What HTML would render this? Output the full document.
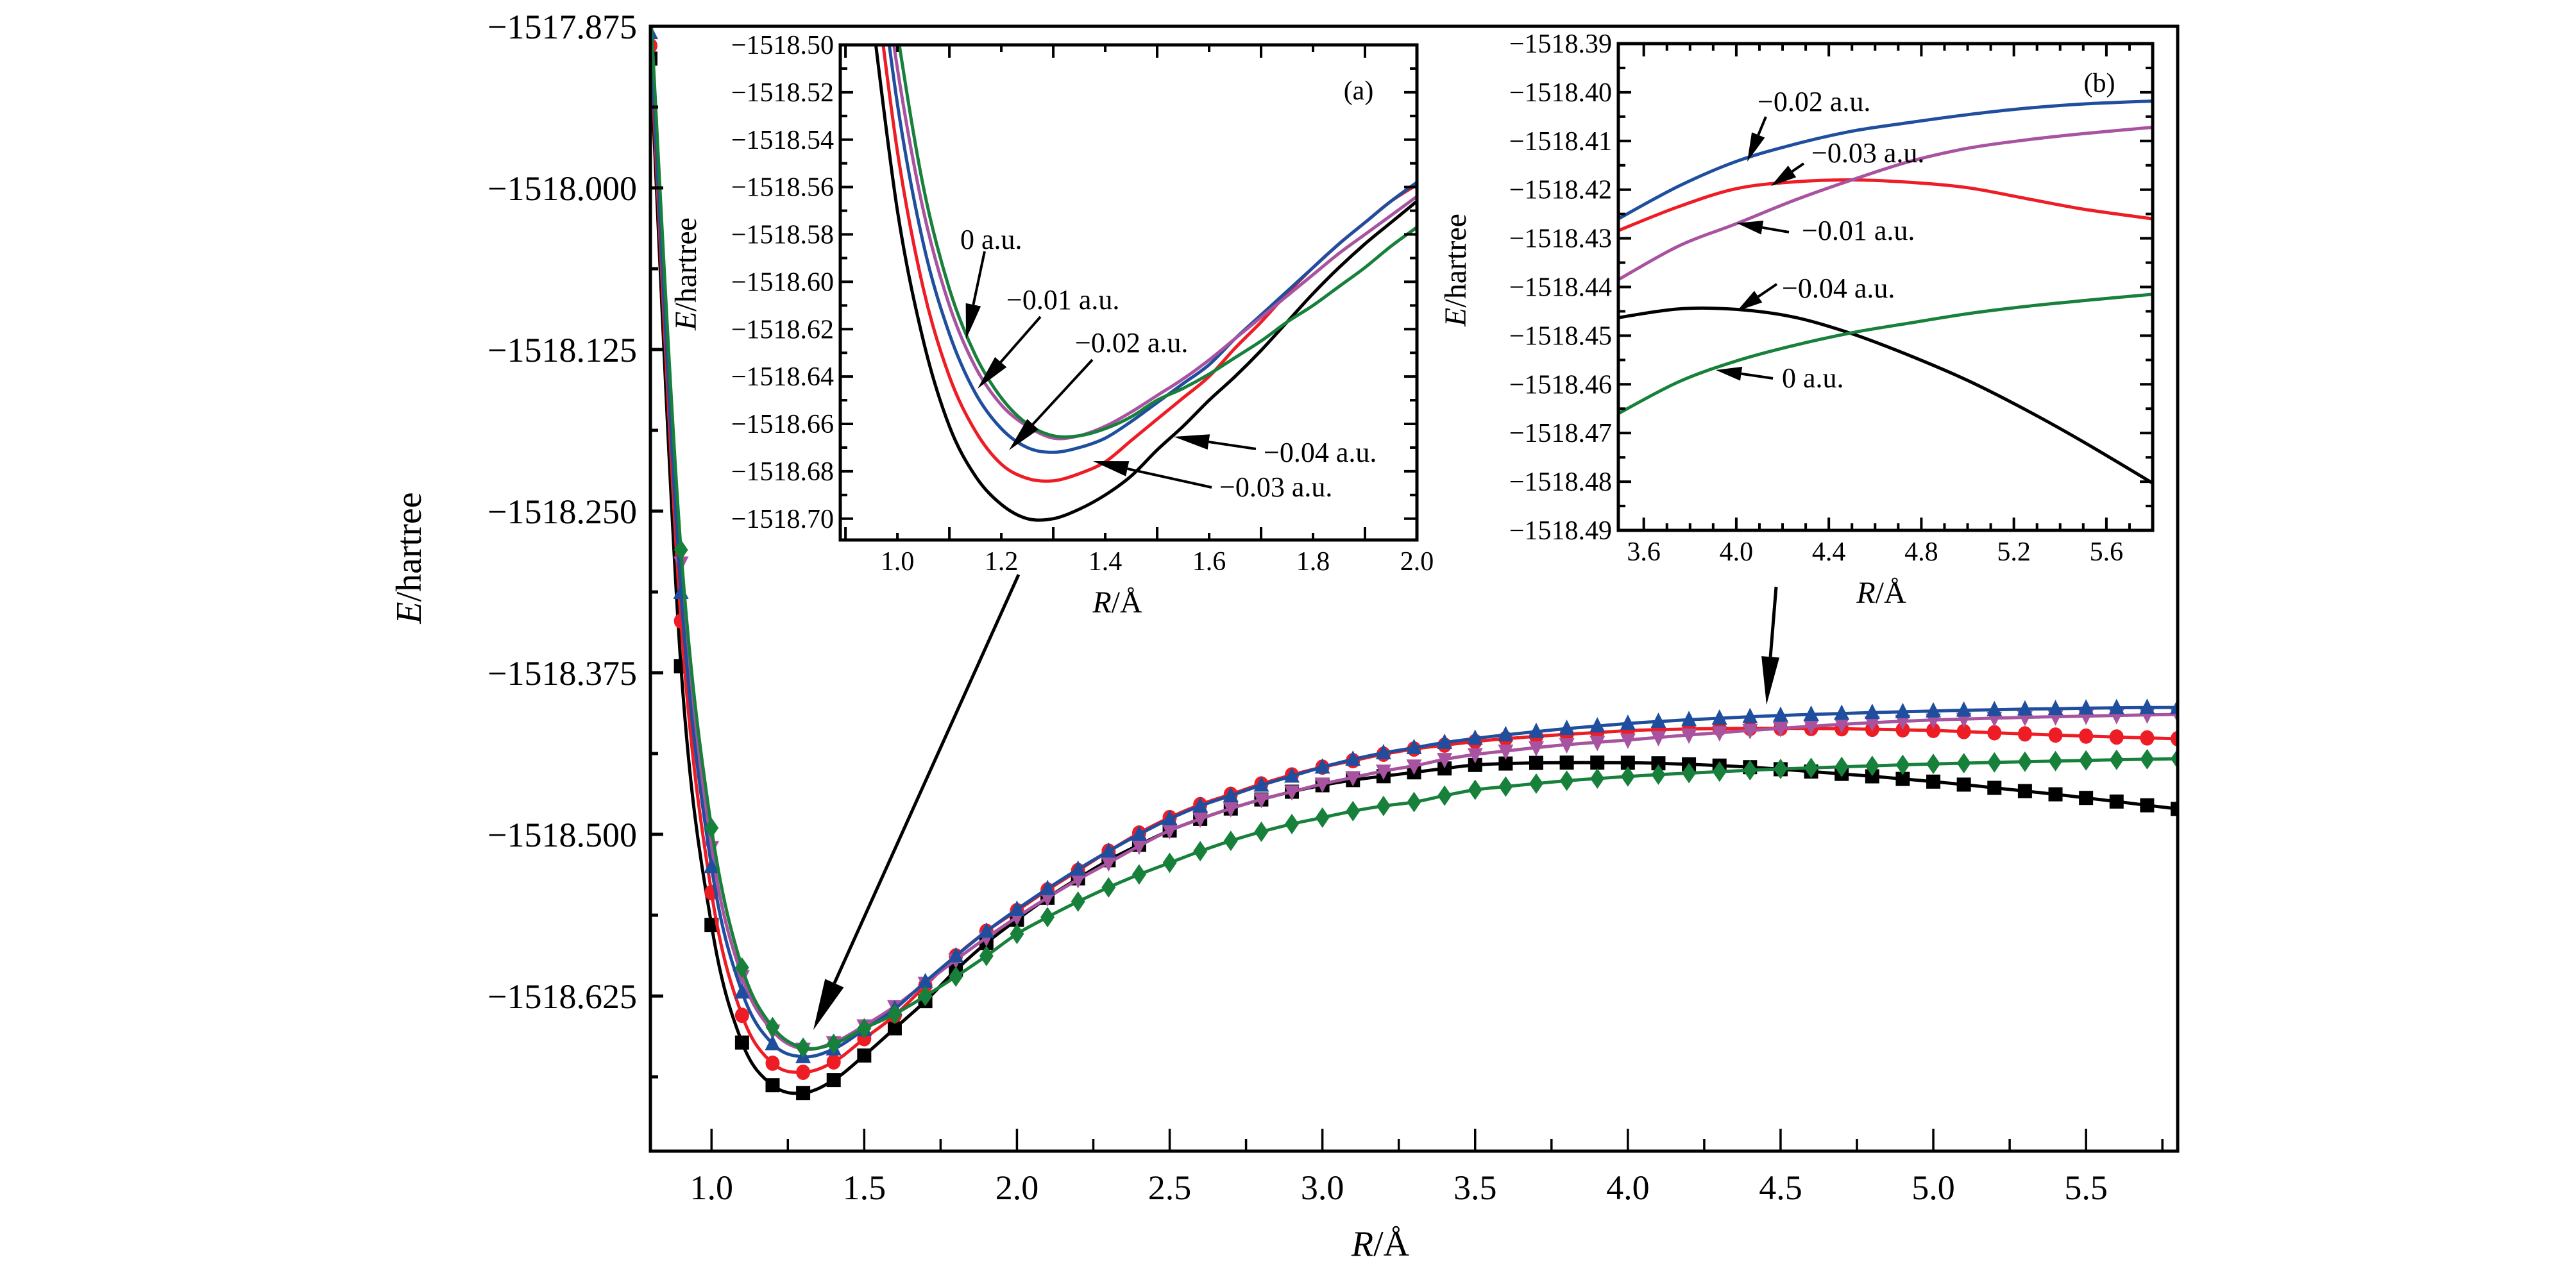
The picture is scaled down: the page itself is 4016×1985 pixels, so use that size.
<!DOCTYPE html>
<html><head><meta charset="utf-8"><title>E vs R chart</title>
<style>
html,body{margin:0;padding:0;background:#fff;}
svg{display:block;font-family:"Liberation Serif",serif;}
</style></head>
<body>
<svg id="chart" width="4016" height="1985" viewBox="0 0 4016 1985" xmlns="http://www.w3.org/2000/svg">
<defs>
<clipPath id="clipMain"><rect x="1014" y="41" width="2381" height="1754"/></clipPath>
<clipPath id="clipA"><rect x="1310" y="70" width="899" height="772"/></clipPath>
<clipPath id="clipB"><rect x="2523" y="68" width="833" height="759"/></clipPath>
</defs>
<g id="root"></g>
</svg>
<script>
// ---- main plot data (R step 0.1) ----
const mainR = [0.8,0.9,1.0,1.1,1.2,1.3,1.4,1.5,1.6,1.7,1.8,1.9,2.0,2.1,2.2,2.3,2.4,2.5,2.6,2.7,2.8,2.9,3.0,3.1,3.2,3.3,3.4,3.5,3.6,3.7,3.8,3.9,4.0,4.1,4.2,4.3,4.4,4.5,4.6,4.7,4.8,4.9,5.0,5.1,5.2,5.3,5.4,5.5,5.6,5.7,5.8];
const mainBlack = [-1517.90,-1518.37,-1518.57,-1518.661,-1518.694,-1518.700,-1518.690,-1518.671,-1518.650,-1518.629,-1518.605,-1518.584,-1518.566,-1518.549,-1518.534,-1518.520,-1518.508,-1518.497,-1518.488,-1518.480,-1518.473,-1518.467,-1518.462,-1518.458,-1518.455,-1518.452,-1518.449,-1518.4463,-1518.4452,-1518.4447,-1518.4445,-1518.4445,-1518.4446,-1518.4450,-1518.4458,-1518.4468,-1518.4480,-1518.4496,-1518.4514,-1518.4532,-1518.4551,-1518.4571,-1518.4592,-1518.4615,-1518.4640,-1518.4665,-1518.4690,-1518.4718,-1518.4746,-1518.4775,-1518.4803];
const mainRed = [-1517.89,-1518.335,-1518.545,-1518.640,-1518.677,-1518.684,-1518.676,-1518.658,-1518.640,-1518.617,-1518.594,-1518.575,-1518.559,-1518.543,-1518.528,-1518.513,-1518.499,-1518.487,-1518.477,-1518.469,-1518.461,-1518.454,-1518.448,-1518.443,-1518.438,-1518.434,-1518.431,-1518.4282,-1518.4260,-1518.4242,-1518.4226,-1518.4212,-1518.4198,-1518.4190,-1518.4185,-1518.4182,-1518.4180,-1518.4180,-1518.4181,-1518.4183,-1518.4187,-1518.4191,-1518.4196,-1518.4205,-1518.4214,-1518.4223,-1518.4232,-1518.4240,-1518.4247,-1518.4254,-1518.4260];
const mainBlue = [-1517.88,-1518.313,-1518.525,-1518.622,-1518.662,-1518.672,-1518.666,-1518.651,-1518.635,-1518.614,-1518.594,-1518.575,-1518.558,-1518.542,-1518.527,-1518.513,-1518.500,-1518.488,-1518.478,-1518.470,-1518.462,-1518.455,-1518.448,-1518.442,-1518.437,-1518.433,-1518.429,-1518.4258,-1518.4230,-1518.4205,-1518.4182,-1518.4162,-1518.4142,-1518.4127,-1518.4113,-1518.4102,-1518.4090,-1518.4080,-1518.4072,-1518.4065,-1518.4058,-1518.4052,-1518.4046,-1518.4040,-1518.4036,-1518.4031,-1518.4028,-1518.4024,-1518.4021,-1518.4019,-1518.4018];
const mainMagenta = [-1517.87,-1518.29,-1518.51,-1518.610,-1518.652,-1518.666,-1518.661,-1518.648,-1518.633,-1518.615,-1518.597,-1518.580,-1518.564,-1518.549,-1518.535,-1518.522,-1518.509,-1518.497,-1518.488,-1518.480,-1518.473,-1518.467,-1518.461,-1518.456,-1518.451,-1518.447,-1518.442,-1518.4382,-1518.4355,-1518.4329,-1518.4306,-1518.4288,-1518.4270,-1518.4250,-1518.4231,-1518.4213,-1518.4196,-1518.4180,-1518.4164,-1518.4149,-1518.4136,-1518.4125,-1518.4115,-1518.4108,-1518.4101,-1518.4095,-1518.4090,-1518.4085,-1518.4080,-1518.4076,-1518.4072];
const mainGreen = [-1517.86,-1518.28,-1518.495,-1518.603,-1518.649,-1518.665,-1518.662,-1518.650,-1518.639,-1518.625,-1518.610,-1518.594,-1518.577,-1518.564,-1518.552,-1518.541,-1518.531,-1518.522,-1518.513,-1518.505,-1518.498,-1518.492,-1518.487,-1518.482,-1518.478,-1518.475,-1518.470,-1518.4655,-1518.4630,-1518.4607,-1518.4585,-1518.4568,-1518.4552,-1518.4538,-1518.4526,-1518.4515,-1518.4504,-1518.4494,-1518.4486,-1518.4478,-1518.4470,-1518.4462,-1518.4455,-1518.4449,-1518.4443,-1518.4438,-1518.4433,-1518.4428,-1518.4423,-1518.4419,-1518.4415];
const mainXTicks = ["1.0","1.5","2.0","2.5","3.0","3.5","4.0","4.5","5.0","5.5"];
const mainYTicks = ["−1517.875","−1518.000","−1518.125","−1518.250","−1518.375","−1518.500","−1518.625"];

// ---- inset (a) data ----
const insetAR = [0.95,1.0,1.05,1.1,1.15,1.2,1.25,1.3,1.35,1.4,1.45,1.5,1.55,1.6,1.65,1.7,1.75,1.8,1.85,1.9,1.95,2.0];
const insetABlack = [-1518.485,-1518.57,-1518.625,-1518.661,-1518.682,-1518.694,-1518.700,-1518.700,-1518.696,-1518.690,-1518.682,-1518.671,-1518.661,-1518.650,-1518.640,-1518.629,-1518.617,-1518.605,-1518.594,-1518.584,-1518.575,-1518.566];
const insetARed = [-1518.46,-1518.545,-1518.603,-1518.640,-1518.663,-1518.677,-1518.683,-1518.684,-1518.681,-1518.676,-1518.667,-1518.658,-1518.649,-1518.640,-1518.628,-1518.617,-1518.605,-1518.594,-1518.584,-1518.575,-1518.566,-1518.559];
const insetABlue = [-1518.44,-1518.525,-1518.584,-1518.622,-1518.647,-1518.662,-1518.670,-1518.672,-1518.670,-1518.666,-1518.659,-1518.651,-1518.643,-1518.635,-1518.624,-1518.614,-1518.604,-1518.594,-1518.584,-1518.575,-1518.566,-1518.558];
const insetAMagenta = [-1518.43,-1518.51,-1518.57,-1518.610,-1518.636,-1518.652,-1518.661,-1518.666,-1518.665,-1518.661,-1518.655,-1518.648,-1518.641,-1518.633,-1518.624,-1518.615,-1518.606,-1518.597,-1518.588,-1518.580,-1518.572,-1518.564];
const insetAGreen = [-1518.42,-1518.495,-1518.56,-1518.603,-1518.631,-1518.649,-1518.660,-1518.665,-1518.665,-1518.662,-1518.657,-1518.650,-1518.645,-1518.639,-1518.632,-1518.625,-1518.617,-1518.610,-1518.602,-1518.594,-1518.585,-1518.577];
const insetAXTicks = ["1.0","1.2","1.4","1.6","1.8","2.0"];
const insetAYTicks = ["−1518.50","−1518.52","−1518.54","−1518.56","−1518.58","−1518.60","−1518.62","−1518.64","−1518.66","−1518.68","−1518.70"];

// ---- inset (b) data ----
const insetBR = [3.49,3.75,4.0,4.25,4.5,4.75,5.0,5.25,5.5,5.8];
const insetBBlue = [-1518.4260,-1518.4193,-1518.4142,-1518.4107,-1518.4080,-1518.4062,-1518.4046,-1518.4033,-1518.4024,-1518.4018];
const insetBRed = [-1518.4284,-1518.4235,-1518.4198,-1518.4184,-1518.4180,-1518.4185,-1518.4196,-1518.4218,-1518.4240,-1518.4260];
const insetBMagenta = [-1518.4385,-1518.4316,-1518.4270,-1518.4222,-1518.4180,-1518.4142,-1518.4115,-1518.4098,-1518.4085,-1518.4072];
const insetBBlack = [-1518.4463,-1518.4445,-1518.4446,-1518.4462,-1518.4496,-1518.4541,-1518.4592,-1518.4652,-1518.4718,-1518.4803];
const insetBGreen = [-1518.4660,-1518.4595,-1518.4552,-1518.4520,-1518.4494,-1518.4474,-1518.4455,-1518.4440,-1518.4428,-1518.4415];
const insetBXTicks = ["3.6","4.0","4.4","4.8","5.2","5.6"];
const insetBYTicks = ["−1518.39","−1518.40","−1518.41","−1518.42","−1518.43","−1518.44","−1518.45","−1518.46","−1518.47","−1518.48","−1518.49"];

const NS = "http://www.w3.org/2000/svg";
const root = document.getElementById('root');
const C = {black:"#000000", red:"#ee1c24", blue:"#1f4e9e", magenta:"#a8539f", green:"#17803a"};

function mk(tag, attrs, parent){
  const e = document.createElementNS(NS, tag);
  for (const k in attrs) e.setAttribute(k, attrs[k]);
  (parent||root).appendChild(e);
  return e;
}
function num(s){ return parseFloat(s.replace('−','-')); }
function smoothPath(pts){
  let d = "M" + pts[0][0].toFixed(1) + "," + pts[0][1].toFixed(1);
  for (let i=0;i<pts.length-1;i++){
    const p0 = pts[Math.max(0,i-1)], p1 = pts[i], p2 = pts[i+1], p3 = pts[Math.min(pts.length-1,i+2)];
    const c1x = p1[0] + (p2[0]-p0[0])/6, c1y = p1[1] + (p2[1]-p0[1])/6;
    const c2x = p2[0] - (p3[0]-p1[0])/6, c2y = p2[1] - (p3[1]-p1[1])/6;
    d += " C" + c1x.toFixed(1)+","+c1y.toFixed(1)+" "+c2x.toFixed(1)+","+c2y.toFixed(1)+" "+p2[0].toFixed(1)+","+p2[1].toFixed(1);
  }
  return d;
}

// ===== MAIN AXES =====
const M = {x0:1014, x1:3395, y0:41, y1:1795, rMin:0.8, rMax:5.8, vTop:-1517.875, vBot:-1518.745};
const mx = r => M.x0 + (r - M.rMin)/(M.rMax - M.rMin)*(M.x1 - M.x0);
const my = v => M.y0 + (M.vTop - v)/(M.vTop - M.vBot)*(M.y1 - M.y0);

const mainG = mk('g', {});


const mainSeries = [
  {name:'black', vals:mainBlack, col:C.black, shape:'square'},
  {name:'red', vals:mainRed, col:C.red, shape:'circle'},
  {name:'magenta', vals:mainMagenta, col:C.magenta, shape:'down'},
  {name:'blue', vals:mainBlue, col:C.blue, shape:'up'},
  {name:'green', vals:mainGreen, col:C.green, shape:'diamond'}
];
const seriesG = mk('g', {'clip-path':'url(#clipMain)'}, mainG);
mainSeries.forEach(s => {
  const g = mk('g', {}, seriesG);
  
  
  const pts = mainR.map((r,i) => [mx(r), my(s.vals[i])]);
  const line = mk('path', {d:smoothPath(pts), fill:'none', stroke:s.col, 'stroke-width':5}, g);
  
  
  pts.forEach(p => {
    let m; const x=p[0], y=p[1];
    if (s.shape==='square') m = mk('rect', {x:x-11, y:y-11, width:22, height:22, fill:s.col}, g);
    else if (s.shape==='circle') m = mk('ellipse', {cx:x, cy:y, rx:11, ry:12, fill:s.col}, g);
    else if (s.shape==='up') m = mk('polygon', {points:`${x-12},${y+10} ${x+12},${y+10} ${x},${y-14}`, fill:s.col}, g);
    else if (s.shape==='down') m = mk('polygon', {points:`${x-12},${y-10} ${x+12},${y-10} ${x},${y+14}`, fill:s.col}, g);
    else m = mk('polygon', {points:`${x},${y-16} ${x+11},${y} ${x},${y+16} ${x-11},${y}`, fill:s.col}, g);
    
    
  });
});
const mf = mk('rect', {x:M.x0, y:M.y0, width:M.x1-M.x0, height:M.y1-M.y0, fill:'none', stroke:'#000', 'stroke-width':5}, mainG);


for (let r=1.0; r<=5.76; r+=0.25){
  const x = mx(r); const major = Math.abs((r*2)-Math.round(r*2))<1e-6;
  mk('line', {x1:x, x2:x, y1:M.y1, y2:M.y1-(major?35:19), stroke:'#000', 'stroke-width':3.5}, mainG);
}
mainXTicks.forEach(t => {
  const tx = mk('text', {x:mx(num(t)), y:1870, 'font-size':54, 'text-anchor':'middle'}, mainG);
  tx.textContent = t;
  
  
});
for (let k=0; k<=13; k++){
  const v = M.vTop - k*0.0625; const y = my(v);
  if (y > M.y1) break;
  mk('line', {x1:M.x0, x2:M.x0+(k%2===0?20:12), y1:y, y2:y, stroke:'#000', 'stroke-width':5}, mainG);
}
mainYTicks.forEach(t => {
  const ty = mk('text', {x:993, y:my(num(t))+19, 'font-size':54, 'text-anchor':'end'}, mainG);
  ty.textContent = t;
  
  
});
const xt = mk('text', {x:2152, y:1958, 'font-size':56, 'text-anchor':'middle'}, mainG);
xt.innerHTML = '<tspan font-style="italic">R</tspan>/Å';


const yt = mk('text', {x:0, y:0, 'font-size':56, 'text-anchor':'middle', transform:'translate(656,870) rotate(-90)'}, mainG);
yt.innerHTML = '<tspan font-style="italic">E</tspan>/hartree';



// ===== INSET helper =====
function buildInset(cfg){
  const g = mk('g', {});
  
  
  const ix = r => cfg.x0 + (r-cfg.rMin)/(cfg.rMax-cfg.rMin)*(cfg.x1-cfg.x0);
  const iy = v => cfg.y0 + (cfg.vTop - v)/(cfg.vTop-cfg.vBot)*(cfg.y1-cfg.y0);
  mk('rect', {x:cfg.x0, y:cfg.y0, width:cfg.x1-cfg.x0, height:cfg.y1-cfg.y0, fill:'#fff'}, g);
  const lg = mk('g', {'clip-path':cfg.clip}, g);
  cfg.series.forEach(s => {
    const pts = cfg.R.map((r,i) => [ix(r), iy(s.vals[i])]);
    const p = mk('path', {d:smoothPath(pts), fill:'none', stroke:s.col, 'stroke-width':5}, lg);
    
    
  });
  const fr = mk('rect', {x:cfg.x0, y:cfg.y0, width:cfg.x1-cfg.x0, height:cfg.y1-cfg.y0, fill:'none', stroke:'#000', 'stroke-width':5}, g);
  
  
  const nX = Math.round((cfg.rMax - cfg.xMinorStart)/cfg.xMinor);
  for (let k=0;k<=nX;k++){
    const r = cfg.xMinorStart + k*cfg.xMinor; if (r>cfg.rMax+1e-9) break;
    const x = ix(r); const maj = (k % cfg.xMajEvery)===0; const L = maj?20:11;
    mk('line', {x1:x,x2:x,y1:cfg.y1,y2:cfg.y1-L,stroke:'#000','stroke-width':4}, g);
    mk('line', {x1:x,x2:x,y1:cfg.y0,y2:cfg.y0+L,stroke:'#000','stroke-width':4}, g);
  }
  const nY = Math.round((cfg.vTop-cfg.vBot)/cfg.yMinor);
  for (let k=0;k<=nY;k++){
    const v = cfg.vTop - k*cfg.yMinor; const y = iy(v); if (y>cfg.y1+1) break;
    const maj = (k % 2)===0; const L = maj?20:11;
    mk('line', {x1:cfg.x0,x2:cfg.x0+L,y1:y,y2:y,stroke:'#000','stroke-width':4}, g);
    mk('line', {x1:cfg.x1,x2:cfg.x1-L,y1:y,y2:y,stroke:'#000','stroke-width':4}, g);
  }
  cfg.xTicks.forEach(t => {
    const e = mk('text', {x:ix(num(t)), y:cfg.y1+47, 'font-size':42, 'text-anchor':'middle'}, g);
    e.textContent = t;
    
    
  });
  cfg.yTicks.forEach(t => {
    const e = mk('text', {x:cfg.x0-10, y:iy(num(t))+14, 'font-size':42, 'text-anchor':'end'}, g);
    e.textContent = t;
    
    
  });
  const xl = mk('text', {x:cfg.xlx, y:cfg.xly, 'font-size':48, 'text-anchor':'middle'}, g);
  xl.innerHTML = '<tspan font-style="italic">R</tspan>/Å';
  
  
  const yl = mk('text', {x:0, y:0, 'font-size':48, 'text-anchor':'middle', transform:`translate(${cfg.ylx},${cfg.yly}) rotate(-90)`}, g);
  yl.innerHTML = '<tspan font-style="italic">E</tspan>/hartree';
  
  
  const pl = mk('text', {x:cfg.plx, y:cfg.ply, 'font-size':42, 'text-anchor':'middle'}, g);
  pl.textContent = cfg.panel;
  
  
  return g;
}

buildInset({name:'inset-a', clip:'url(#clipA)', x0:1310, x1:2209, y0:70, y1:842, rMin:0.89, rMax:2.0, vTop:-1518.50, vBot:-1518.709,
  R:insetAR, series:[{name:'black',vals:insetABlack,col:C.black},{name:'red',vals:insetARed,col:C.red},{name:'blue',vals:insetABlue,col:C.blue},{name:'magenta',vals:insetAMagenta,col:C.magenta},{name:'green',vals:insetAGreen,col:C.green}],
  xMinorStart:0.9, xMinor:0.1, xMajEvery:2, yMinor:0.01, xTicks:insetAXTicks, yTicks:insetAYTicks,
  xlx:1742, xly:955, ylx:1085, yly:427, plx:2118, ply:155, panel:'(a)'});

buildInset({name:'inset-b', clip:'url(#clipB)', x0:2523, x1:3356, y0:68, y1:827, rMin:3.49, rMax:5.8, vTop:-1518.39, vBot:-1518.49,
  R:insetBR, series:[{name:'blue',vals:insetBBlue,col:C.blue},{name:'red',vals:insetBRed,col:C.red},{name:'magenta',vals:insetBMagenta,col:C.magenta},{name:'black',vals:insetBBlack,col:C.black},{name:'green',vals:insetBGreen,col:C.green}],
  xMinorStart:3.6, xMinor:0.1, xMajEvery:4, yMinor:0.005, xTicks:insetBXTicks, yTicks:insetBYTicks,
  xlx:2933, xly:940, ylx:2285, yly:421, plx:3273, ply:143, panel:'(b)'});

// ===== annotations =====
function arrow(x1,y1,x2,y2,name,w,hl,hw){
  const g = mk('g', {});
  
  
  const dx=x2-x1, dy=y2-y1, L=Math.hypot(dx,dy), ux=dx/L, uy=dy/L;
  const bx=x2-ux*hl, by=y2-uy*hl;
  mk('line', {x1:x1,y1:y1,x2:bx,y2:by,stroke:'#000','stroke-width':w}, g);
  mk('polygon', {points:`${x2},${y2} ${bx-uy*hw},${by+ux*hw} ${bx+uy*hw},${by-ux*hw}`, fill:'#000'}, g);
}
function label(x,y,t,name){
  const e = mk('text', {x:x, y:y, 'font-size':44}, root);
  e.textContent = t;
  
  
}
arrow(1588,896,1268,1606,'arrow-to-inset-a-region',5,80,16);
arrow(2769,915,2754,1099,'arrow-to-inset-b-region',5,75,14);
label(1497,388,'0 a.u.','label-a-0');
arrow(1535,392,1506,529,'arrow-a-0',4,55,12);
label(1569,482,'−0.01 a.u.','label-a-001');
arrow(1622,494,1524,606,'arrow-a-001',4,55,12);
label(1676,549,'−0.02 a.u.','label-a-002');
arrow(1703,561,1573,702,'arrow-a-002',4,55,12);
label(1970,720,'−0.04 a.u.','label-a-004');
arrow(1958,700,1830,681,'arrow-a-004',4,55,12);
label(1901,774,'−0.03 a.u.','label-a-003');
arrow(1889,760,1704,719,'arrow-a-003',4,55,12);
label(2740,173,'−0.02 a.u.','label-b-002');
arrow(2753,182,2724,252,'arrow-b-002',4,45,11);
label(2824,253,'−0.03 a.u.','label-b-003');
arrow(2812,255,2761,290,'arrow-b-003',4,40,11);
label(2809,374,'−0.01 a.u.','label-b-001');
arrow(2789,362,2708,348,'arrow-b-001',4,40,11);
label(2778,464,'−0.04 a.u.','label-b-004');
arrow(2770,443,2708,485,'arrow-b-004',4,40,11);
label(2778,604,'0 a.u.','label-b-0');
arrow(2764,590,2675,577,'arrow-b-0',4,40,11);
</script>
</body></html>
